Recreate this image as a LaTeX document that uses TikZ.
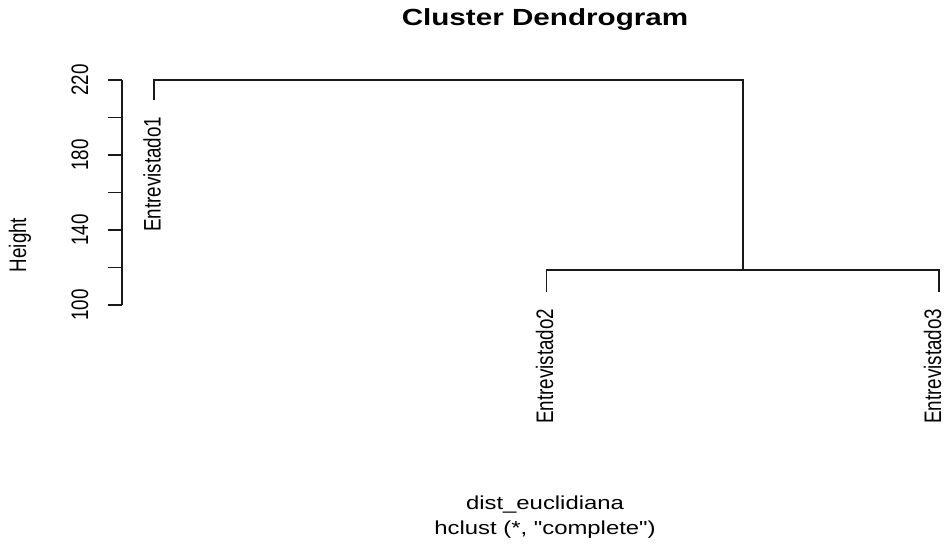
\documentclass[tikz,border=0pt]{standalone}
\usepackage{fontspec}
\setmainfont{Liberation Sans}[Ligatures=TeXOff]

\tikzset{every picture/.style={line width=1.1pt}}
\tikzset{
  branch/.style={draw=black!90, line width=1.1pt},
  rtext/.style={inner sep=0pt, font=\fontsize{14.1}{16}\selectfont},
  rtitle/.style={inner sep=0pt, font=\fontsize{17.5}{20}\selectfont\bfseries},
}
% the plot was stretched sideways
\newcommand{\wide}[1]{\scalebox{1.27}[1]{#1}}
\newcommand{\tall}[1]{\scalebox{1}[1.27]{#1}}

\begin{document}
\begin{tikzpicture}[x=0.75pt,y=0.75pt,yscale=-1,xscale=1]
\useasboundingbox (0,0) rectangle (945,543);

% Title
\node [rtitle] (title) at (545,20) {\wide{Cluster Dendrogram}};

%Axis
\draw [branch] (122,80) -- (122,305) ;
\foreach \y in {80,117.5,155,192.5,230,267.5,305}
  \draw [branch] (122,\y) -- (108,\y) ;
\foreach \t/\y in {100/305,140/230,180/155,220/80}
  \node [rtext, rotate=90] (tick\t) at (80,\y) {\tall{\t}};
\node [rtext, rotate=90] (ylab) at (20,245) {\tall{Height}};

%Leaves and merges
\coordinate (e1) at (154,100);
\coordinate (e2) at (546.7,292);
\coordinate (e3) at (939,292);
\coordinate (m23) at (743,270);
\coordinate (m123) at (743,80);
\draw [branch] (e1) |- (m123) -- (m23) ;
\draw [branch] (e2) |- (m23) -| (e3) ;

% Text Node
\node [rtext, rotate=90, anchor=east] (lab1) at (152,116) {\tall{Entrevistado1}};
\node [rtext, rotate=90, anchor=east] (lab2) at (544.5,308) {\tall{Entrevistado2}};
\node [rtext, rotate=90, anchor=east] (lab3) at (932.5,308) {\tall{Entrevistado3}};

% Text Node
\node [rtext] (xlab) at (545,505) {\wide{dist\_euclidiana}};
\node [rtext] (sub) at (545,530) {\wide{hclust (*, "complete")}};

\end{tikzpicture}
\end{document}
